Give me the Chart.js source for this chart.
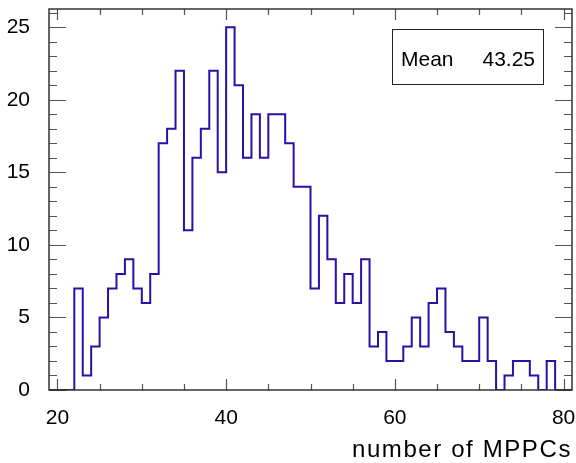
<!DOCTYPE html>
<html>
<head>
<meta charset="utf-8">
<script src="https://cdn.jsdelivr.net/npm/chart.js@4"></script>
<style>
  html, body { margin: 0; padding: 0; background: #fff; }
  #wrap { width: 576px; height: 463px; position: relative; }
</style>
</head>
<body>
<div id="wrap"><canvas id="histo"></canvas></div>
<script>
// histogram: bins of width 1, first bin starts at 19
const binStart = 19;
const counts = [0, 0, 0, 7, 1, 3, 5, 7, 8, 9, 7, 6, 8, 17, 18, 22, 11, 16, 18, 22,
                15, 25, 21, 16, 19, 16, 19, 19, 17, 14, 14, 7, 12, 9, 6, 8, 6, 9, 3, 4,
                2, 2, 3, 5, 3, 6, 7, 4, 3, 2, 2, 5, 2, 0, 1, 2, 2, 1, 0, 2, 0, 0];
const xTicks = [20, 40, 60, 80];
const yTicks = [0, 5, 10, 15, 20, 25];
const xMinorStep = 5;
const yMinorStep = 1;
const xRange = [19, 81];
const yRange = [0, 26.25];
const meanValue = 43.25;
const xTitle = 'number of MPPCs';

const FONT = '"Liberation Sans", Arial, Helvetica, sans-serif';
const LINE = '#2B0FA6';

// left bin edges + closing point at the right edge
const points = counts.map((c, i) => ({ x: binStart + i, y: c }));
points.push({ x: binStart + counts.length, y: counts[counts.length - 1] });

const frame = {
    id: 'frame',
    afterDatasetsDraw(chart) {
        const { ctx, chartArea: a, scales } = chart;
        const xs = scales.x, ys = scales.y;
        ctx.save();
        ctx.strokeStyle = '#555';
        ctx.lineWidth = 1.2;
        ctx.beginPath();
        // x ticks bottom + top
        for (let v = 20; v <= 80; v += xMinorStep) {
            const px = Math.round(xs.getPixelForValue(v)) + 0.5;
            const len = xTicks.includes(v) ? 11 : 6;
            ctx.moveTo(px, a.bottom); ctx.lineTo(px, a.bottom - len);
            ctx.moveTo(px, a.top); ctx.lineTo(px, a.top + len);
        }
        // y ticks left + right
        for (let v = 0; v <= 26; v += yMinorStep) {
            const py = Math.round(ys.getPixelForValue(v)) + 0.5;
            const len = v % 5 === 0 ? 17 : 8;
            ctx.moveTo(a.left, py); ctx.lineTo(a.left + len, py);
            ctx.moveTo(a.right, py); ctx.lineTo(a.right - len, py);
        }
        ctx.stroke();

        ctx.strokeStyle = '#333';
        ctx.lineWidth = 1.5;
        ctx.strokeRect(a.left, a.top, a.right - a.left, a.bottom - a.top);

        // stats box
        ctx.fillStyle = '#fff';
        ctx.fillRect(392.5, 29.5, 151, 55);
        ctx.strokeStyle = '#222';
        ctx.lineWidth = 1;
        ctx.strokeRect(392.5, 29.5, 151, 55);
        ctx.fillStyle = '#000';
        ctx.font = '21px ' + FONT;
        ctx.textBaseline = 'alphabetic';
        ctx.textAlign = 'left';
        ctx.fillText('Mean', 401, 66);
        ctx.textAlign = 'right';
        ctx.fillText(meanValue.toFixed(2), 535, 66);

        // axis title
        ctx.font = '24px ' + FONT;
        ctx.letterSpacing = '1.6px';
        ctx.textAlign = 'right';
        ctx.fillText(xTitle, 572, 457);
        ctx.restore();
    }
};

new Chart(document.getElementById('histo'), {
    type: 'line',
    data: {
        datasets: [{
            data: points,
            stepped: true,
            borderColor: LINE,
            borderWidth: 2,
            pointRadius: 0,
            fill: false
        }]
    },
    options: {
        responsive: true,
        maintainAspectRatio: false,
        animation: false,
        layout: { padding: { top: 9, right: 4, left: 0, bottom: 0 } },
        plugins: { legend: { display: false }, tooltip: { enabled: false } },
        scales: {
            x: {
                type: 'linear',
                min: xRange[0],
                max: xRange[1],
                grid: { display: false },
                border: { display: false },
                afterBuildTicks: s => { s.ticks = xTicks.map(v => ({ value: v })); },
                afterFit: s => { s.height = 73; s.paddingLeft = 0; s.paddingRight = 0; },
                ticks: { color: '#000', padding: 8, maxRotation: 0, font: { family: FONT, size: 21 } }
            },
            y: {
                min: yRange[0],
                max: yRange[1],
                grid: { display: false },
                border: { display: false },
                afterBuildTicks: s => { s.ticks = yTicks.map(v => ({ value: v })); },
                afterFit: s => { s.width = 49; s.paddingTop = 0; s.paddingBottom = 0; },
                ticks: { color: '#000', padding: 11, font: { family: FONT, size: 21 } }
            }
        }
    },
    plugins: [frame]
});
</script>
</body>
</html>
